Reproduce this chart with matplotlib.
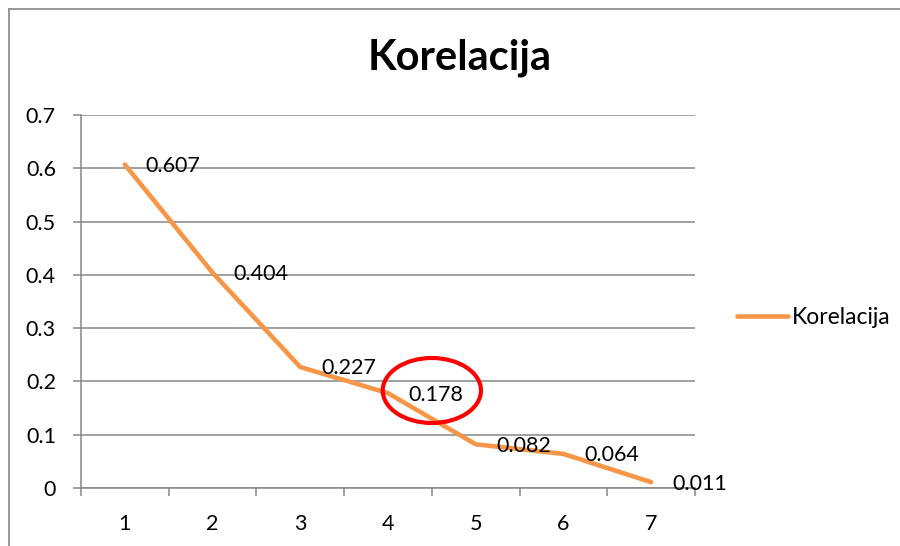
import matplotlib.pyplot as plt
from matplotlib.lines import Line2D
from matplotlib.patches import Ellipse

# podaci
kategorije = [1, 2, 3, 4, 5, 6, 7]
korelacija = [0.607, 0.404, 0.227, 0.178, 0.082, 0.064, 0.011]
y_ticks = [0, 0.1, 0.2, 0.3, 0.4, 0.5, 0.6, 0.7]

narancasta = "#F79646"
siva = "#868686"

plt.rcParams['font.family'] = ['Lato', 'DejaVu Sans']

fig = plt.figure(figsize=(9, 5.46), dpi=100)
ax = fig.add_axes([81 / 900, 1 - 488 / 546, 614 / 900, 373 / 546])

ax.plot(kategorije, korelacija, color=narancasta, lw=3.3, solid_capstyle="round",
        label="Korelacija", zorder=3)

# oznake vrijednosti desno od tocke
for x, y in zip(kategorije, korelacija):
    ax.annotate(f"{y:g}", (x, y), xytext=(15, -1), textcoords="offset points",
                ha="left", va="center", fontsize=15.5, color="black", zorder=4)

# crveni krug oko 0.178
ax.add_patch(Ellipse((4.5, 0.183), 1.12, 0.122, fill=False, ec="red", lw=3, zorder=5))

ax.set_xlim(0.5, 7.5)
ax.set_ylim(0, 0.7)
ax.set_yticks(y_ticks)
ax.set_yticklabels([f"{t:g}" for t in y_ticks])
ax.set_xticks(kategorije)
ax.set_xticks([k + 0.5 for k in [0] + kategorije], minor=True)
ax.tick_params(axis="x", which="major", length=0, pad=19, labelsize=15.5)
ax.tick_params(axis="x", which="minor", length=6, width=1.1, color=siva, direction="out")
ax.tick_params(axis="y", length=6, width=1.1, color=siva, pad=12, labelsize=15.5)

ax.grid(axis="y", color=siva, lw=1.1)
ax.set_axisbelow(True)
for s in ["top", "right"]:
    ax.spines[s].set_visible(False)
for s in ["left", "bottom"]:
    ax.spines[s].set_color(siva)
    ax.spines[s].set_linewidth(1.1)

fig.text(460 / 900, 1 - 58 / 546, "Korelacija", ha="center", va="center",
         fontsize=30, fontweight="bold")

ax.legend(loc="center left", bbox_to_anchor=(728 / 900, 1 - 318 / 546),
          bbox_transform=fig.transFigure, frameon=False, fontsize=16.5,
          handlelength=2.2, handletextpad=0.2, borderaxespad=0)

# okvir grafikona (lijevo i gore)
fig.add_artist(Line2D([9 / 900, 9 / 900], [0, 1 - 9 / 546], color=siva, lw=1.2))
fig.add_artist(Line2D([9 / 900, 1], [1 - 9 / 546, 1 - 9 / 546], color=siva, lw=1.2))

fig.savefig("out.png", dpi=100)
